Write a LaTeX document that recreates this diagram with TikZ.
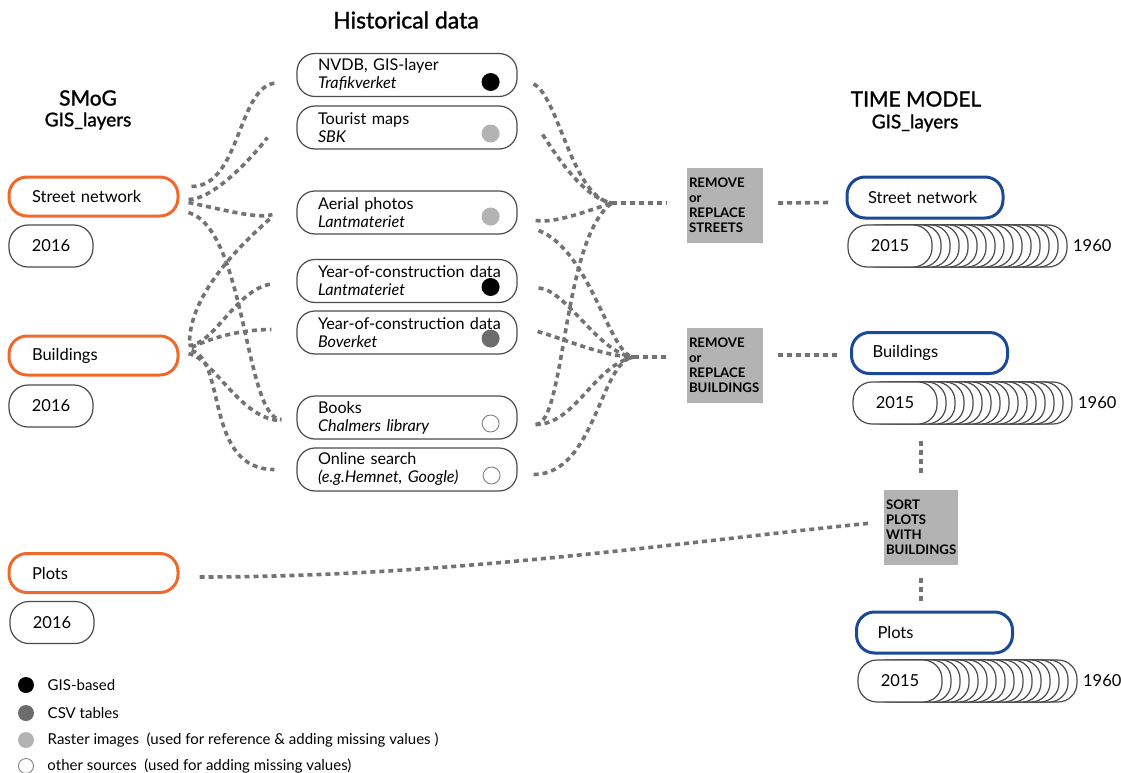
\documentclass[tikz,border=0pt]{standalone}
\usepackage{fontspec}
\setmainfont{Lato}
\newfontfamily\headfont[FakeBold=1.2]{Lato}
\usetikzlibrary{positioning,calc}

\definecolor{smogorange}{RGB}{238,106,44}
\definecolor{timeblue}{RGB}{28,72,152}
\definecolor{linkgrey}{RGB}{115,115,115}
\definecolor{stepgrey}{RGB}{179,179,179}
\definecolor{csvgrey}{RGB}{108,108,108}
\definecolor{edgegrey}{RGB}{75,75,75}

\tikzset{
  smogbox/.style={draw=smogorange, line width=3pt, rounded corners=18pt, minimum width=169pt, minimum height=39pt, inner xsep=0pt, text width=123pt, align=left, font=\fontsize{16.5}{18}\selectfont},
  timebox/.style={draw=timeblue, line width=3pt, rounded corners=18pt, minimum width=156pt, minimum height=41pt, inner xsep=0pt, text width=114pt, align=left, font=\fontsize{16.5}{18}\selectfont},
  yearbox/.style={draw=edgegrey, line width=1.2pt, fill=white, rounded corners=19pt, minimum width=84pt, minimum height=42pt, inner sep=0pt, font=\fontsize{16.5}{18}\selectfont},
  srcbox/.style={draw=edgegrey, line width=1.2pt, rounded corners=18pt, minimum width=220pt, minimum height=43pt, inner xsep=0pt, text width=178pt, align=left, font=\fontsize{16.2}{18}\selectfont},
  stepbox/.style={fill=stepgrey, minimum width=76pt, minimum height=75pt, inner xsep=0pt, text width=72pt, align=left, font=\fontsize{13.2}{15}\selectfont\bfseries},
  dot/.style={circle, inner sep=0pt, minimum size=18pt},
  link/.style={draw=linkgrey, line width=3.6pt, dash pattern=on 5pt off 4pt},
  title/.style={font=\headfont\fontsize{21}{24}\selectfont},
  subtitle/.style={font=\headfont\fontsize{19}{21}\selectfont},
  legend/.style={font=\fontsize{15}{18}\selectfont}
}

\begin{document}
\begin{tikzpicture}[x=1pt,y=-1pt]
\useasboundingbox (0,0) rectangle (1121,773);

% titles
\node[title, font=\headfont\fontsize{23}{26}\selectfont] (histtitle) at (406,20) {Historical data};
\node[title] (smogtitle) at (88,98) {SMoG};
\node[subtitle] (smoglayers) at (88,121) {GIS\_layers};
\node[title] (timetitle) at (916,99) {TIME MODEL};
\node[subtitle] (timelayers) at (915,123) {GIS\_layers};

% SMoG layers
\node[smogbox] (sn) at (93.5,196.5) {Street network};
\node[yearbox] (sny) at (51,246) {2016};
\node[smogbox] (bd) at (93.5,355.5) {Buildings};
\node[yearbox] (bdy) at (51,406) {2016};
\node[smogbox] (pl) at (93.5,573) {Plots};
\node[yearbox] (ply) at (52,622.5) {2016};

% historical sources
\node[srcbox] (nvdb) at (407,75) {NVDB, GIS-layer\\\textit{Trafikverket}};
\node[srcbox] (tour) at (407,127.5) {Tourist maps\\\textit{SBK}};
\node[srcbox] (aer) at (407,212.5) {Aerial photos\\\textit{Lantmateriet}};
\node[srcbox] (yrl) at (407,281) {\mbox{Year-of-construction data}\\\textit{Lantmateriet}};
\node[srcbox] (yrb) at (407,332.5) {\mbox{Year-of-construction data}\\\textit{Boverket}};
\node[srcbox] (books) at (407,417.5) {Books\\\textit{Chalmers library}};
\node[srcbox] (online) at (407,469.5) {Online search\\\textit{(e.g.Hemnet, Google)}};

\node[dot, fill=black] (nvdbdot) at ([xshift=-27pt,yshift=-7pt]nvdb.east) {};
\node[dot, fill=stepgrey] (tourdot) at ([xshift=-27pt,yshift=-6pt]tour.east) {};
\node[dot, fill=stepgrey] (aerdot) at ([xshift=-27pt,yshift=-4pt]aer.east) {};
\node[dot, fill=black] (yrldot) at ([xshift=-27pt,yshift=-6pt]yrl.east) {};
\node[dot, fill=csvgrey] (yrbdot) at ([xshift=-27pt,yshift=-6pt]yrb.east) {};
\node[dot, draw=edgegrey!70, line width=0.9pt, minimum size=17pt] (booksdot) at ([xshift=-27pt,yshift=-6pt]books.east) {};
\node[dot, draw=edgegrey!70, line width=0.9pt, minimum size=17pt] (onlinedot) at ([xshift=-26pt,yshift=-6pt]online.east) {};

% processing steps
\node[stepbox] (rs) at (725,205) {REMOVE\\or\\REPLACE\\STREETS};
\node[stepbox] (rb) at (725,365) {REMOVE\\or\\REPLACE\\BUILDINGS};
\node[stepbox, minimum width=74pt, text width=70pt] (sort) at (921,527.5) {SORT\\PLOTS\\WITH\\BUILDINGS};

% time model stacks (back to front)
\foreach \i in {15,...,1}
  \node[yearbox] (sst\i) at (890+9*\i,246) {};
\node[yearbox] (sst0) at (890,246) {2015};
\node[font=\fontsize{16.5}{18}\selectfont, right=2pt of sst15] (sstend) {1960};
\foreach \i in {15,...,1}
  \node[yearbox] (bst\i) at (895+9*\i,403) {};
\node[yearbox] (bst0) at (895,403) {2015};
\node[font=\fontsize{16.5}{18}\selectfont, right=2pt of bst15] (bstend) {1960};
\foreach \i in {15,...,1}
  \node[yearbox] (pst\i) at (900+9*\i,681) {};
\node[yearbox] (pst0) at (900,681) {2015};
\node[font=\fontsize{16.5}{18}\selectfont, right=2pt of pst15] (pstend) {1960};

\node[timebox] (tsn) at (925,197.5) {Street network};
\node[timebox] (tbd) at (929.5,353) {Buildings};
\node[timebox] (tpl) at (934.5,632.5) {Plots};

% SMoG -> sources
\draw[link] ([xshift=12pt,yshift=10pt]sn.east) .. controls +(50,0) and +(-40,0) .. ([xshift=-19pt,yshift=-8pt]nvdb.west);
\draw[link] ([xshift=9pt,yshift=-3pt]sn.east) .. controls +(25,0) and +(-15,20) .. ([xshift=-29pt,yshift=-10pt]tour.west);
\draw[link] ([xshift=9pt,yshift=-6pt]sn.east) .. controls +(30,6) and +(-15,5) .. ([xshift=-24pt,yshift=-2pt]aer.west);
\draw[link] ([xshift=9pt,yshift=-16pt]sn.east) .. controls +(58,17) and +(-37,0) .. ([xshift=-15pt,yshift=-2pt]books.west);
\draw[link] ([xshift=10pt,yshift=15pt]bd.east) .. controls +(2,-50) and +(-28,25) .. ([xshift=-24pt,yshift=-4pt]aer.west);
\draw[link] ([xshift=9pt,yshift=10pt]bd.east) .. controls +(25,0) and +(-35,5) .. ([xshift=-25pt,yshift=-3pt]yrl.west);
\draw[link] ([xshift=12pt,yshift=8pt]bd.east) .. controls +(20,-10) and +(-30,0) .. ([xshift=-25pt,yshift=3pt]yrb.west);
\draw[link] ([xshift=9pt,yshift=2pt]bd.east) .. controls +(25,5) and +(-40,0) .. ([xshift=-15pt,yshift=-3pt]books.west);
\draw[link] ([xshift=12pt,yshift=5pt]bd.east) .. controls +(35,10) and +(-70,0) .. ([xshift=-22pt]online.west);

% sources -> steps
\coordinate (js) at (612,203);
\coordinate (jb) at (634,357);
\draw[link] ([xshift=16pt,yshift=-9pt]nvdb.east) .. controls +(25,12) and +(-40,-5) .. (js);
\draw[link] ([xshift=25pt,yshift=-7pt]tour.east) .. controls +(10,15) and +(-30,-5) .. (js);
\draw[link] ([xshift=18pt,yshift=-8pt]aer.east) .. controls +(20,3) and +(-25,8) .. (js);
\draw[link] ([xshift=18pt,yshift=-7pt]books.east) .. controls +(30,0) and +(-50,35) .. (js);
\draw[link] (js) -- ([xshift=-20pt,yshift=2pt]rs.west);
\draw[link] ([xshift=21pt,yshift=-18pt]aer.east) .. controls +(52,20) and +(-24,0) .. (jb);
\draw[link] ([xshift=21pt,yshift=-7pt]yrl.east) .. controls +(27,1) and +(-34,-2) .. (jb);
\draw[link] ([xshift=20pt,yshift=1pt]yrb.east) .. controls +(20,5) and +(-30,0) .. (jb);
\draw[link] ([xshift=18pt,yshift=-7pt]books.east) .. controls +(40,0) and +(-40,8) .. (jb);
\draw[link] ([xshift=16pt,yshift=-5pt]online.east) .. controls +(62,0) and +(-34,3) .. (jb);
\draw[link] (jb) -- ([xshift=-20pt,yshift=8pt]rb.west);

% steps -> time model
\draw[link] ([xshift=15pt,yshift=2pt]rs.east) -- ([xshift=-15pt,yshift=-5pt]tsn.west);
\draw[link] ([xshift=15pt,yshift=10pt]rb.east) -- ([xshift=-12pt,yshift=-2pt]tbd.west);
\draw[link] ($(sort.north |- bst0.south)+(0,16)$) -- ([yshift=16pt]sort.north);
\draw[link] ([yshift=-13pt]sort.south) -- ($(sort.south |- tpl.north)+(0,-8)$);
\draw[link] ([xshift=20pt,yshift=-4pt]pl.east) .. controls +(250,0) and +(-200,20) .. ([xshift=-12pt,yshift=4.5pt]sort.west);

% legend
\node[dot, fill=black, minimum size=16pt] (lgis) at (26,685) {};
\node[dot, fill=csvgrey, minimum size=16pt] (lcsv) at (26,713) {};
\node[dot, fill=stepgrey, minimum size=16pt] (lraster) at (26,740) {};
\node[dot, draw=edgegrey!70, line width=0.9pt, minimum size=15pt] (lother) at (26,766) {};
\node[legend, right=10pt of lgis] (lgistext) {GIS-based};
\node[legend, right=10pt of lcsv] (lcsvtext) {CSV tables};
\node[legend, right=10pt of lraster] (lrastertext) {Raster images\ \ (used for reference \& adding missing values )};
\node[legend, right=10pt of lother] (lothertext) {other sources\ \ (used for adding missing values)};
\end{tikzpicture}
\end{document}
